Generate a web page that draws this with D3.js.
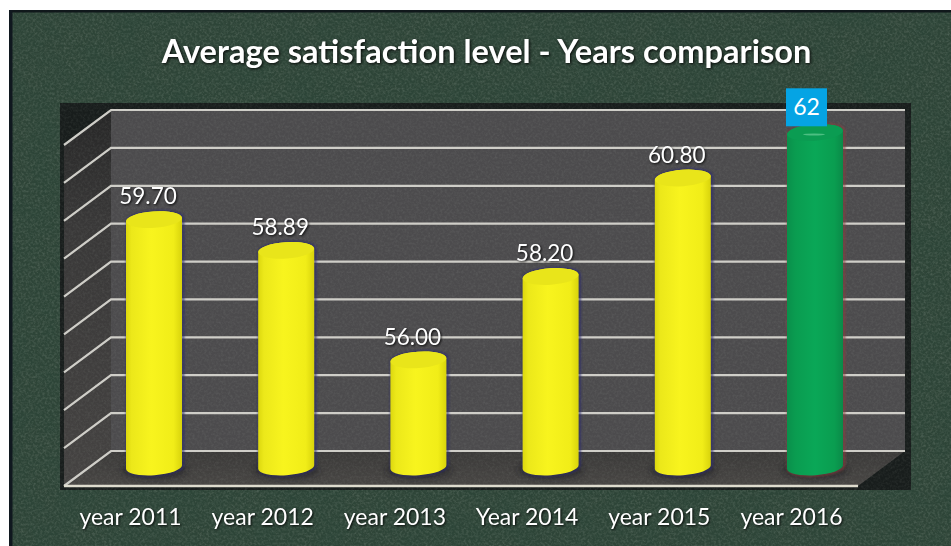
<!DOCTYPE html>
<html>
<head>
<meta charset="utf-8">
<script src="https://cdn.jsdelivr.net/npm/d3@7/dist/d3.min.js"></script>
<style>
  html, body { margin: 0; padding: 0; background: #fff; }
  svg { display: block; }
  text { font-family: Lato, "Noto Sans", sans-serif; fill: #fff; }
</style>
</head>
<body>
<svg id="chart" width="951" height="546"></svg>
<script>
// Yearly satisfaction figures
const categories = ["year 2011", "year 2012", "year 2013", "Year 2014", "year 2015", "year 2016"];
const satisfaction = [59.70, 58.89, 56.00, 58.20, 60.80, 62];
const valueLabels = ["59.70", "58.89", "56.00", "58.20", "60.80", "62"];
const titleText = "Average satisfaction level - Years comparison";
const axisRange = [53, 62];

const svg = d3.select("#chart");
const defs = svg.append("defs");

// Scales: y addresses the back wall, x the centre of each cylinder
const y = d3.scaleLinear().domain(axisRange).range([451, 110]);
const x = d3.scalePoint().domain(categories).range([154, 815]);

const depth = { dx: -47, dy: 35 };          // back wall to front edge of the floor
const wall = { left: 111, right: 905 };
const cyl = { rx: 28, ry: 8.2, tilt: -4, topOffset: 22.5, baseY: 467 };

// Speckled texture shared by the board and the plot box
const makeGrain = (id, freq, octaves, seed, alpha, soften) => {
  const f = defs.append("filter").attr("id", id)
    .attr("x", 0).attr("y", 0).attr("width", "100%").attr("height", "100%");
  f.append("feTurbulence").attr("type", "fractalNoise").attr("baseFrequency", freq)
    .attr("numOctaves", octaves).attr("seed", seed);
  f.append("feColorMatrix").attr("values", alpha);
  if (soften) f.append("feGaussianBlur").attr("stdDeviation", soften);
};
makeGrain("grain", 0.42, 3, 7, "0 0 0 0 0.74  0 0 0 0 0.8  0 0 0 0 0.72  1.1 0 0 0 -0.42", 0.5);
makeGrain("mottle", 0.035, 3, 11, "0 0 0 0 0.02  0 0 0 0 0.06  0 0 0 0 0.04  0 1.5 0 0 -0.42", 0);

const linear = (id, stops, dir = [0, 0, 1, 0]) => {
  const g = defs.append("linearGradient").attr("id", id)
    .attr("x1", dir[0]).attr("y1", dir[1]).attr("x2", dir[2]).attr("y2", dir[3]);
  stops.forEach(([o, c]) => g.append("stop").attr("offset", o).attr("stop-color", c));
};
linear("yellowBody", [[0, "#dcd70e"], [0.1, "#ece81a"], [0.45, "#f8f41e"], [0.85, "#f1ed18"], [1, "#d8d30c"]]);
linear("greenBody", [[0, "#0a8f4b"], [0.15, "#0a9c50"], [0.5, "#0aa757"], [0.85, "#0a9d50"], [1, "#0a8a48"]]);
linear("sideWall", [[0, "#272727"], [0.3, "#393838"], [1, "#454342"]], [0, 0, 0, 1]);
linear("floorFill", [[0, "#3b3a39"], [1, "#484644"]], [0, 0, 0, 1]);

const soft = defs.append("filter").attr("id", "soft")
  .attr("x", "-30%").attr("y", "-30%").attr("width", "160%").attr("height", "160%");
soft.append("feGaussianBlur").attr("stdDeviation", 3);
const halo = defs.append("filter").attr("id", "halo")
  .attr("x", "-20%").attr("y", "-5%").attr("width", "140%").attr("height", "110%");
halo.append("feGaussianBlur").attr("stdDeviation", 1);

const textShade = "drop-shadow(1px 1px 1.2px rgba(0,0,0,0.85))";

// Board
const board = { x: 9, y: 10, width: 942, height: 536 };
const boardRect = () => svg.append("rect").attr("x", board.x).attr("y", board.y)
  .attr("width", board.width).attr("height", board.height);
boardRect().attr("fill", "#2f4538");
boardRect().attr("filter", "url(#grain)").attr("opacity", 0.3);
boardRect().attr("filter", "url(#mottle)").attr("opacity", 0.3);
svg.append("rect").attr("x", 9).attr("y", 10).attr("width", 942).attr("height", 2.5).attr("fill", "#10181b");
svg.append("rect").attr("x", 9).attr("y", 10).attr("width", 3.5).attr("height", 536).attr("fill", "#10181f");

// Plot box: dark panel, walls and floor
const plot = svg.append("g");
plot.append("rect").attr("x", 60).attr("y", 103).attr("width", 851).attr("height", 387).attr("fill", "#181d1c");
const wallBottom = y(axisRange[0]), wallTop = y(axisRange[1]);
plot.append("polygon").attr("fill", "url(#sideWall)")
  .attr("points", [[wall.left, wallTop], [wall.left, wallBottom], [wall.left + depth.dx, wallBottom + depth.dy], [wall.left + depth.dx, wallTop + depth.dy]].join(" "));
plot.append("rect").attr("x", wall.left).attr("y", wallTop).attr("width", wall.right - wall.left).attr("height", wallBottom - wallTop).attr("fill", "#4c4b4d");
plot.append("polygon").attr("fill", "url(#floorFill)")
  .attr("points", [[wall.left, wallBottom], [wall.right, wallBottom], [wall.right + depth.dx, wallBottom + depth.dy], [wall.left + depth.dx, wallBottom + depth.dy]].join(" "));

// Grain over the plot box, beneath the gridlines
svg.append("rect").attr("x", 60).attr("y", 103).attr("width", 851).attr("height", 387)
  .attr("filter", "url(#grain)").attr("opacity", 0.14);

// Gridlines run along the back wall and fold down the left wall
const grid = svg.append("g").attr("fill", "none").attr("stroke", "#cfcec8").attr("stroke-width", 2.2);
y.ticks(axisRange[1] - axisRange[0]).forEach(t => {
  grid.append("path").attr("d", d3.line()([
    [wall.right, y(t)], [wall.left, y(t)], [wall.left + depth.dx, y(t) + depth.dy]
  ]));
});
grid.append("line")
  .attr("x1", wall.left + depth.dx).attr("x2", wall.right + depth.dx)
  .attr("y1", wallBottom + depth.dy).attr("y2", wallBottom + depth.dy)
  .attr("stroke", "#dedcce").attr("stroke-width", 2.4);

// Cylinders
const rows = categories.map((c, i) => ({ c, v: satisfaction[i], label: valueLabels[i], last: i === categories.length - 1 }));
const lift = cyl.rx * Math.tan(-cyl.tilt * Math.PI / 180);

function cylinderPath(d) {
  const cx = x(d.c), capY = y(d.v) + cyl.topOffset, base = cyl.baseY;
  const arc = `A${cyl.rx},${cyl.ry} ${cyl.tilt} 0 0`;
  return `M${cx - cyl.rx},${capY + lift}L${cx - cyl.rx},${base + lift}` +
    `${arc} ${cx + cyl.rx},${base - lift}L${cx + cyl.rx},${capY - lift}` +
    `${arc} ${cx - cyl.rx},${capY + lift}Z`;
}

const bars = svg.append("g").selectAll("g").data(rows).join("g");
// Contact shadow on the floor, faint coloured fringe around each cylinder
bars.append("ellipse").attr("cx", d => x(d.c)).attr("cy", cyl.baseY + 3)
  .attr("rx", cyl.rx + 5).attr("ry", cyl.ry + 1).attr("fill", "#17181c").attr("opacity", 0.45).attr("filter", "url(#soft)");
bars.append("path").attr("d", cylinderPath).attr("fill", "none")
  .attr("stroke", d => d.last ? "#8a3c3c" : "#2b2a70").attr("stroke-width", 2.5)
  .attr("opacity", 0.75).attr("filter", "url(#halo)").attr("transform", "translate(1,0)");
bars.append("path").attr("d", cylinderPath)
  .attr("fill", d => d.last ? "url(#greenBody)" : "url(#yellowBody)");
bars.append("ellipse")
  .attr("cx", d => x(d.c)).attr("cy", d => y(d.v) + cyl.topOffset)
  .attr("rx", cyl.rx).attr("ry", cyl.ry)
  .attr("transform", d => `rotate(${cyl.tilt} ${x(d.c)} ${y(d.v) + cyl.topOffset})`)
  .attr("fill", d => d.last ? "#0b9c52" : "#e9e51a");
// Small glint on the highlighted cylinder's cap
bars.filter(d => d.last).append("ellipse")
  .attr("cx", d => x(d.c) - 1).attr("cy", d => y(d.v) + cyl.topOffset + 2)
  .attr("rx", 11).attr("ry", 0.9).attr("fill", "#5cc88f").attr("opacity", 0.8);

// Value labels sit just above and slightly left of their cylinder
const labels = svg.append("g").attr("text-anchor", "middle").style("filter", textShade);
labels.selectAll("text").data(rows.filter(d => !d.last)).join("text")
  .attr("x", d => x(d.c) - 6)
  .attr("y", d => y(d.v) + cyl.topOffset - cyl.ry - 7)
  .attr("font-size", 22.5)
  .text(d => d.label);

// Highlighted value in a blue tag
const latest = rows[rows.length - 1];
const tag = svg.append("g");
const tagW = 41, tagH = 38, tagCx = x(latest.c) - 8.5, tagBottom = y(latest.v) + cyl.topOffset - cyl.ry + 2;
tag.append("rect").attr("x", tagCx - tagW / 2).attr("y", tagBottom - tagH)
  .attr("width", tagW).attr("height", tagH).attr("fill", "#05a4e4");
tag.append("text").attr("x", tagCx).attr("y", tagBottom - 11).attr("text-anchor", "middle")
  .attr("font-size", 23).text(latest.label);

// Category axis
const axis = svg.append("g").attr("transform", "translate(-24,509)")
  .call(d3.axisBottom(x).tickSize(0).tickPadding(0));
axis.select(".domain").remove();
axis.selectAll("text").attr("font-size", 23).style("filter", textShade);
axis.attr("font-family", null);

// Title
svg.append("text").attr("x", 486.5).attr("y", 63).attr("text-anchor", "middle")
  .attr("font-size", 32.6).attr("font-weight", 700).style("filter", "drop-shadow(1.5px 1.5px 1.5px rgba(0,0,0,0.9))")
  .text(titleText);
</script>
</body>
</html>
